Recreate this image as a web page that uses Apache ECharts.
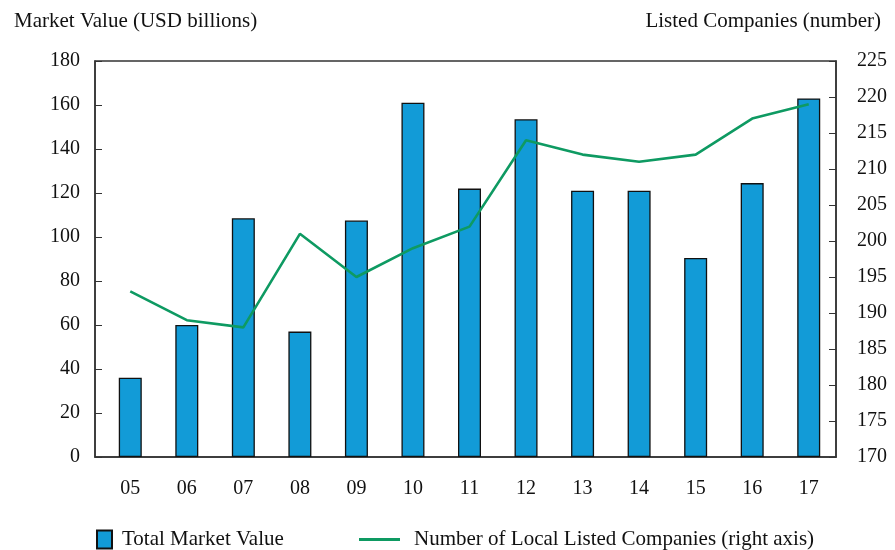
<!DOCTYPE html>
<html>
<head>
<meta charset="utf-8">
<script src="https://cdn.jsdelivr.net/npm/echarts@6/dist/echarts.min.js"></script>
<style>
  html, body { margin: 0; padding: 0; background: #fff; }
  #chart { width: 895px; height: 550px; }
</style>
</head>
<body>
<div id="chart"></div>
<script>
// years (x axis)
var years = ['05', '06', '07', '08', '09', '10', '11', '12', '13', '14', '15', '16', '17'];
// total market value, USD billions (left axis)
var marketValue = [36, 60, 108.5, 57, 107.5, 161, 122, 153.5, 121, 121, 90.5, 124.5, 163];
// number of local listed companies (right axis)
var listedCompanies = [193, 189, 188, 201, 195, 199, 202, 214, 212, 211, 212, 217, 219];

var FONT = '"Liberation Serif", "DejaVu Serif", serif';
var AXIS = '#333';
var TXT = '#111';

var chart = echarts.init(document.getElementById('chart'));

// grid 0 draws the frame and both value axes, grid 1 holds the marks
// (the categories sit a little right of the frame's centre in the original)
var option = {
  animation: false,
  textStyle: { fontFamily: FONT },
  title: [
    { text: 'Market Value (USD billions)', left: 9, top: 6,
      textStyle: { fontFamily: FONT, fontSize: 21, fontWeight: 'normal', color: TXT } },
    { text: 'Listed Companies (number)', right: 9, top: 6,
      textStyle: { fontFamily: FONT, fontSize: 21, fontWeight: 'normal', color: TXT } }
  ],
  grid: [
    { left: 95, right: 59, top: 61, height: 396, show: true, borderColor: AXIS, borderWidth: 1.5 },
    { left: 102, right: 58, top: 61, height: 396 }
  ],
  legend: [
    {
      data: ['Total Market Value'],
      left: 91, top: 524,
      itemWidth: 15, itemHeight: 18,
      icon: 'rect',
      textStyle: { fontFamily: FONT, fontSize: 21, color: TXT, padding: [0, 0, 0, 5] }
    },
    {
      data: ['Number of Local Listed Companies (right axis)'],
      left: 354, top: 524,
      itemWidth: 41, itemHeight: 3,
      icon: 'rect',
      textStyle: { fontFamily: FONT, fontSize: 21, color: TXT, padding: [0, 0, 0, 9] }
    }
  ],
  xAxis: [
    {
      gridIndex: 0, type: 'category', data: years,
      axisLine: { lineStyle: { color: AXIS, width: 1.5 } },
      axisTick: { show: false }, axisLabel: { show: false }
    },
    {
      gridIndex: 1, type: 'category', data: years,
      axisLine: { show: false },
      axisTick: { show: false },
      axisLabel: { fontFamily: FONT, fontSize: 20, color: TXT, margin: 22 }
    }
  ],
  yAxis: [
    {
      gridIndex: 0, type: 'value', min: 0, max: 180, interval: 20,
      axisLine: { show: true, lineStyle: { color: AXIS, width: 1.5 } },
      axisTick: { show: true, inside: true, length: 7, lineStyle: { color: AXIS } },
      splitLine: { show: false },
      axisLabel: { fontFamily: FONT, fontSize: 20, color: TXT, margin: 15 }
    },
    {
      gridIndex: 0, type: 'value', min: 170, max: 225, interval: 5,
      position: 'right',
      axisLine: { show: true, lineStyle: { color: AXIS, width: 1.5 } },
      axisTick: { show: true, inside: true, length: 7, lineStyle: { color: AXIS } },
      splitLine: { show: false },
      axisLabel: { fontFamily: FONT, fontSize: 20, color: TXT, margin: 21 }
    },
    {
      gridIndex: 1, type: 'value', min: 0, max: 180, interval: 20, show: false
    },
    {
      gridIndex: 1, type: 'value', min: 170, max: 225, interval: 5, show: false,
      position: 'right'
    }
  ],
  series: [
    {
      name: 'Total Market Value',
      type: 'bar',
      xAxisIndex: 1, yAxisIndex: 2,
      data: marketValue,
      barWidth: 23,
      itemStyle: { color: '#129BD7', borderColor: '#111', borderWidth: 1.3 }
    },
    {
      name: 'Number of Local Listed Companies (right axis)',
      type: 'line',
      xAxisIndex: 1, yAxisIndex: 3,
      data: listedCompanies,
      symbol: 'none',
      itemStyle: { color: '#0E9A62' },
      lineStyle: { color: '#0E9A62', width: 2.6 }
    }
  ]
};

chart.setOption(option);
</script>
</body>
</html>
